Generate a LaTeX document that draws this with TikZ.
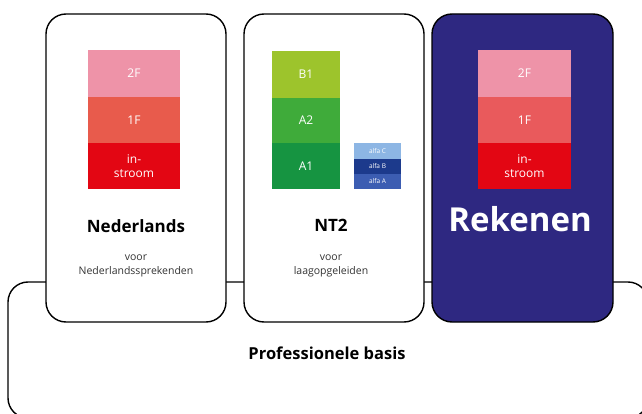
\documentclass[tikz,border=0pt]{standalone}
\usepackage{fontspec}
\setmainfont{Open Sans}
\begin{document}
\begin{tikzpicture}[x=1pt,y=-1pt,
  panel/.style={draw=black,line width=1.4pt,rounded corners=20pt},
  band/.style={draw=none,inner sep=0pt,text=white,font=\fontsize{12}{14}\selectfont,align=center},
  small/.style={text=white,inner sep=0pt,font=\fontsize{6.5}{7}\selectfont},
  title/.style={font=\bfseries\fontsize{17}{19}\selectfont},
  sub/.style={font=\fontsize{10.5}{14.5}\selectfont,align=center,text=black!80}]
\useasboundingbox (0,0) rectangle (642,414);
\clip (0,0) rectangle (642,414);
\definecolor{pinkF}{HTML}{EE93A8}
\definecolor{coralF}{HTML}{E85B4C}
\definecolor{redF}{HTML}{E30613}
\definecolor{coralR}{HTML}{E95A5C}
\definecolor{limeG}{HTML}{9DC42C}
\definecolor{midG}{HTML}{3FAB3A}
\definecolor{darkG}{HTML}{169441}
\definecolor{alfaC}{HTML}{8DB6E4}
\definecolor{alfaB}{HTML}{1C3A8C}
\definecolor{alfaA}{HTML}{3C5DB2}
\definecolor{navy}{HTML}{2E2881}
% base
\draw[panel,fill=white] (8,282) rectangle (648,418);
\node[font=\bfseries\fontsize{16.5}{18}\selectfont] (basis) at (327,353) {Professionele basis};
% Nederlands
\draw[panel,fill=white] (46,14) rectangle (226,322);
\fill[pinkF] (88,50) rectangle (180,97);
\fill[coralF] (88,97) rectangle (180,143);
\fill[redF] (88,143) rectangle (180,189);
\node[band] (n2f) at (134,73.5) {2F};
\node[band] (n1f) at (134,120) {1F};
\node[band] (nin) at (134,166) {in-\\stroom};
\node[title] (ned) at (136,226) {Nederlands};
\node[sub] (nsub) at (136,266) {voor\\Nederlandssprekenden};
% NT2
\draw[panel,fill=white] (244,14) rectangle (424,322);
\fill[limeG] (272,51) rectangle (340,98);
\fill[midG] (272,98) rectangle (340,143);
\fill[darkG] (272,143) rectangle (340,189);
\node[band] (b1) at (306,74.5) {B1};
\node[band] (a2) at (306,120.5) {A2};
\node[band] (a1) at (306,166) {A1};
\fill[alfaC] (354,143) rectangle (401,159);
\fill[alfaB] (354,159) rectangle (401,174);
\fill[alfaA] (354,174) rectangle (401,189);
\node[small] (ac) at (377.5,151) {alfa C};
\node[small] (ab) at (377.5,166.5) {alfa B};
\node[small] (aa) at (377.5,181.5) {alfa A};
\node[title] (nt2) at (331,225) {NT2};
\node[sub] (tsub) at (331,266) {voor\\laagopgeleiden};
% Rekenen
\draw[panel,fill=navy] (432,14) rectangle (613,322);
\fill[pinkF] (478,50) rectangle (571,97);
\fill[coralR] (478,97) rectangle (571,143);
\fill[redF] (478,143) rectangle (571,189);
\node[band] (r2f) at (524.5,73.5) {2F};
\node[band] (r1f) at (524.5,120) {1F};
\node[band] (rin) at (524.5,166) {in-\\stroom};
\node[font=\bfseries\fontsize{33}{36}\selectfont,text=white] (rek) at (520,219) {Rekenen};
\end{tikzpicture}
\end{document}
